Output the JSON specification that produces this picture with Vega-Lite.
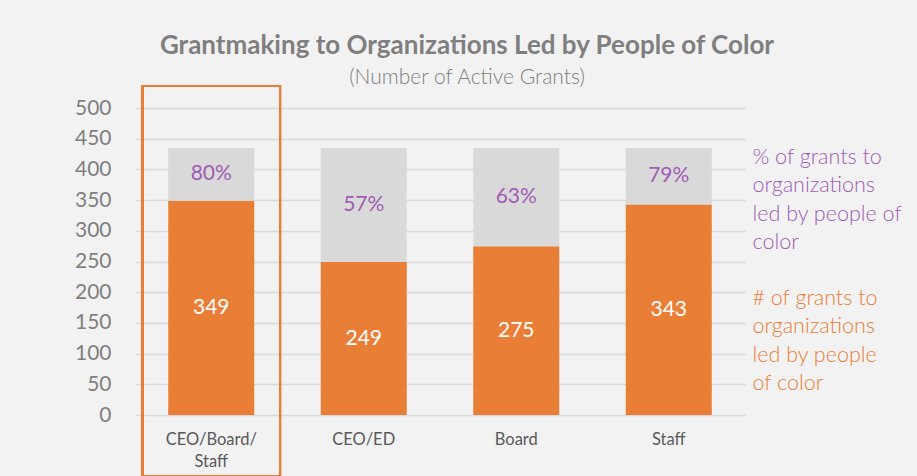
{
  "$schema": "https://vega.github.io/schema/vega-lite/v6.json",
  "width": 610,
  "height": 307,
  "autosize": "none",
  "padding": {"left": 135, "top": 108, "right": 172, "bottom": 61},
  "background": "#f2f2f2",
  "config": {"view": {"stroke": null}, "font": "Lato"},
  "title": {
    "text": "Grantmaking to Organizations Led by People of Color",
    "subtitle": "(Number of Active Grants)",
    "anchor": "middle",
    "dx": 27,
    "fontSize": 26,
    "font": "Lato",
    "fontWeight": "bold",
    "color": "#7f7f7f",
    "subtitleFont": "Lato",
    "subtitleFontSize": 21,
    "subtitleFontWeight": 300,
    "subtitleColor": "#7f7f7f",
    "offset": -3,
    "subtitlePadding": 8
  },
  "data": {
    "values": [
      {"role": "CEO/Board/Staff", "series": "# of grants to organizations led by people of color", "ord": 1, "value": 349, "label": "349"},
      {"role": "CEO/Board/Staff", "series": "% of grants to organizations led by people of color", "ord": 2, "value": 86, "label": "80%"},
      {"role": "CEO/ED", "series": "# of grants to organizations led by people of color", "ord": 1, "value": 249, "label": "249"},
      {"role": "CEO/ED", "series": "% of grants to organizations led by people of color", "ord": 2, "value": 186, "label": "57%"},
      {"role": "Board", "series": "# of grants to organizations led by people of color", "ord": 1, "value": 275, "label": "275"},
      {"role": "Board", "series": "% of grants to organizations led by people of color", "ord": 2, "value": 160, "label": "63%"},
      {"role": "Staff", "series": "# of grants to organizations led by people of color", "ord": 1, "value": 343, "label": "343"},
      {"role": "Staff", "series": "% of grants to organizations led by people of color", "ord": 2, "value": 92, "label": "79%"}
    ]
  },
  "encoding": {
    "x": {
      "field": "role",
      "type": "nominal",
      "sort": null,
      "scale": {"paddingInner": 0.436, "paddingOuter": 0.218},
      "axis": {
        "title": null,
        "domain": false,
        "ticks": false,
        "labelAngle": 0,
        "labelFont": "Lato",
        "labelFontSize": 16.5,
        "labelColor": "#595959",
        "labelPadding": 16,
        "labelBaseline": "top",
        "labelLineHeight": 22,
        "labelExpr": "datum.value == 'CEO/Board/Staff' ? ['CEO/Board/', 'Staff'] : datum.value"
      }
    }
  },
  "layer": [
    {
      "mark": {"type": "bar"},
      "encoding": {
        "y": {
          "field": "value",
          "type": "quantitative",
          "stack": "zero",
          "scale": {"domain": [0, 500], "nice": false},
          "axis": {
            "title": null,
            "values": [0, 50, 100, 150, 200, 250, 300, 350, 400, 450, 500],
            "labelOverlap": false,
            "domain": false,
            "ticks": false,
            "labelFont": "Lato",
            "labelFontSize": 21,
            "labelColor": "#7f7f7f",
            "labelPadding": 24,
            "gridColor": "#d9d9d9",
            "gridWidth": 1.5
          }
        },
        "order": {"field": "ord", "type": "quantitative"},
        "color": {
          "field": "series",
          "type": "nominal",
          "scale": {
            "domain": ["% of grants to organizations led by people of color", "# of grants to organizations led by people of color"],
            "range": ["#d9d9d9", "#e97e37"]
          },
          "legend": {
            "orient": "none",
            "legendX": 596,
            "legendY": 39,
            "title": null,
            "symbolSize": 0,
            "symbolOpacity": 0,
            "symbolStrokeWidth": 0,
            "labelOffset": 0,
            "padding": 0,
            "labelFont": "Lato",
            "labelFontSize": 21.5,
            "labelFontWeight": 300,
            "labelLimit": 300,
            "rowPadding": 33,
            "labelExpr": "datum.value[0] == '%' ? ['% of grants to', 'organizations', 'led by people of', 'color'] : ['# of grants to', 'organizations', 'led by people', 'of color']",
            "encode": {
              "labels": {
                "update": {
                  "fill": {"signal": "datum.value[0] == '%' ? '#a05cb4' : '#e97e37'"},
                  "lineHeight": {"value": 28.5}
                }
              }
            }
          }
        }
      }
    },
    {
      "transform": [
        {"stack": "value", "groupby": ["role"], "sort": [{"field": "ord", "order": "ascending"}], "as": ["v0", "v1"]},
        {"fold": ["v0", "v1"], "as": ["edge", "pos"]}
      ],
      "mark": {"type": "text", "font": "Lato", "fontSize": 21, "fontWeight": 400, "baseline": "middle"},
      "encoding": {
        "y": {
          "aggregate": "mean",
          "field": "pos",
          "type": "quantitative",
          "axis": {
            "title": null,
            "values": [0, 50, 100, 150, 200, 250, 300, 350, 400, 450, 500],
            "labelOverlap": false,
            "domain": false,
            "ticks": false,
            "labelFont": "Lato",
            "labelFontSize": 21,
            "labelColor": "#7f7f7f",
            "labelPadding": 24,
            "gridColor": "#d9d9d9",
            "gridWidth": 1.5
          }
        },
        "detail": {"field": "ord", "type": "quantitative"},
        "text": {"field": "label", "type": "nominal"},
        "color": {
          "condition": {"test": "datum.ord == 1", "value": "#ffffff"},
          "value": "#a05cb4"
        }
      }
    },
    {
      "mark": {"type": "bar", "fill": null, "fillOpacity": 0, "stroke": "#e97e37", "strokeWidth": 2, "width": {"band": 1.6}},
      "encoding": {
        "x": {"datum": "CEO/Board/Staff", "type": "nominal"},
        "y": {
          "datum": 536,
          "type": "quantitative",
          "axis": {
            "title": null,
            "values": [0, 50, 100, 150, 200, 250, 300, 350, 400, 450, 500],
            "labelOverlap": false,
            "domain": false,
            "ticks": false,
            "labelFont": "Lato",
            "labelFontSize": 21,
            "labelColor": "#7f7f7f",
            "labelPadding": 24,
            "gridColor": "#d9d9d9",
            "gridWidth": 1.5
          }
        },
        "y2": {"datum": -100}
      }
    }
  ]
}
